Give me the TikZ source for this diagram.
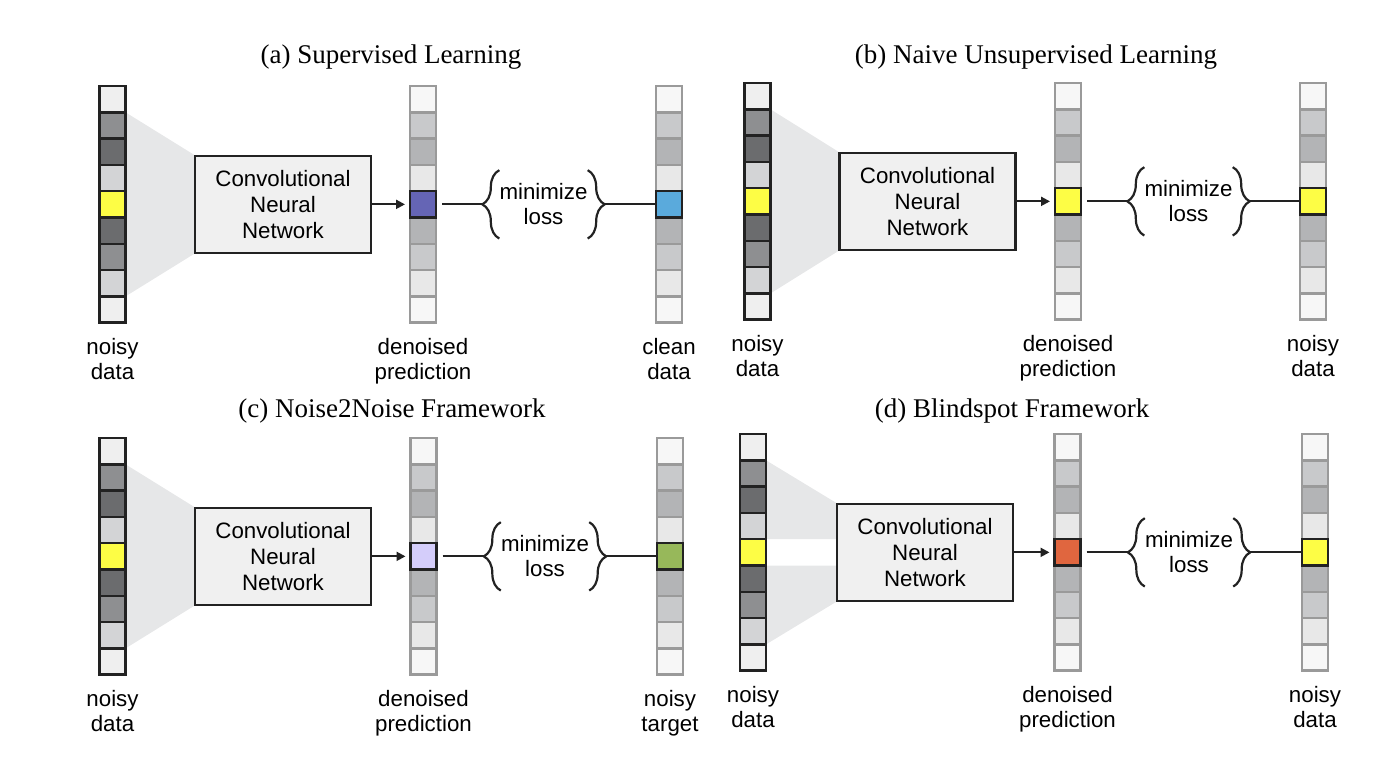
\documentclass[tikz,border=0pt]{standalone}
\usepackage{fontspec}
\setmainfont{Liberation Serif}
\setsansfont{Liberation Sans}
\usetikzlibrary{arrows.meta, backgrounds, decorations.pathreplacing, positioning}
\definecolor{ink}{HTML}{222222}
\definecolor{rim}{HTML}{9A9A9A}
\definecolor{boxfill}{HTML}{F0F0F0}
\definecolor{conefill}{HTML}{E6E7E8}
\definecolor{nA}{HTML}{EFEFEF}
\definecolor{nB}{HTML}{8E8F91}
\definecolor{nC}{HTML}{6B6C6E}
\definecolor{nD}{HTML}{D3D4D6}
\definecolor{pxYellow}{HTML}{FDFD45}
\definecolor{pA}{HTML}{F7F7F7}
\definecolor{pB}{HTML}{C8C9CB}
\definecolor{pC}{HTML}{B3B4B6}
\definecolor{pD}{HTML}{E8E8E8}
\definecolor{predPurple}{HTML}{6565B5}
\definecolor{cleanBlue}{HTML}{5AAADC}
\definecolor{predLilac}{HTML}{D4CDFA}
\definecolor{targetGreen}{HTML}{97B85A}
\definecolor{predOrange}{HTML}{E0663F}

\begin{document}
\begin{tikzpicture}[x=1pt, y=-1pt,
node distance = 15pt,
pixcell/.style = {draw=#1, line width=2.5pt, inner sep=0pt, outer sep=0pt,
                  minimum width=26pt, minimum height=26.3pt},
cnn/.style = {draw=ink, fill=boxfill, line width=2.5pt, inner sep=0pt,
              minimum width=176pt, minimum height=97pt, align=center,
              font=\sffamily\fontsize{22.3}{26}\selectfont},
lbl/.style = {align=center, inner sep=0pt,
              font=\sffamily\fontsize{22.3}{25}\selectfont},
lossbox/.style = {lbl, minimum width=87pt, minimum height=68pt},
ttl/.style = {inner sep=0pt, font=\fontsize{27}{32}\selectfont},
brc/.style = {draw=ink, line width=2.2pt, decorate,
              decoration={brace, amplitude=17pt}},
wire/.style = {draw=ink, line width=2pt},
feed/.style = {wire, -{Triangle[length=9pt, width=9pt]}, shorten >=5pt},
                    ]
\useasboundingbox (0,0) rectangle (1388,756);
%---
\node[ttl] (aTitle) at (391,57)   {(a) Supervised Learning};
\node[ttl] (bTitle) at (1036,57)  {(b) Naive Unsupervised Learning};
\node[ttl] (cTitle) at (392,411)  {(c) Noise2Noise Framework};
\node[ttl] (dTitle) at (1012,411) {(d) Blindspot Framework};
%--- noisy input columns
\foreach \n/\x/\y in {a/112.5/86, b/757.5/83, c/112.5/438, d/753/434}
  \foreach \c [count=\i] in {nA,nB,nC,nD,pxYellow,nC,nB,nD,nA}
    \node[pixcell=ink, fill=\c] (\n N\i) at (\x, {\y+13.15+26.3*(\i-1)}) {};
%--- prediction and target columns
\foreach \n/\x/\y/\hc in {aP/423/86/predPurple, aT/669/86/cleanBlue,
                          bP/1068/83/pxYellow, bT/1313/83/pxYellow,
                          cP/423.5/438/predLilac, cT/670/438/targetGreen,
                          dP/1067.5/434/predOrange, dT/1315/434/pxYellow}{
  \foreach \c [count=\i] in {pA,pB,pC,pD,\hc,pC,pB,pD,pA}
    \node[pixcell=rim, fill=\c] (\n\i) at (\x, {\y+13.15+26.3*(\i-1)}) {};
  \draw[ink, line width=2.5pt] (\n5.north west) rectangle (\n5.south east);
}
%--- network, loss and labels
\foreach \pnl/\xb/\y/\xl/\tl in {a/283/86/543.5/{clean\\data},
                                 b/927.5/83/1188.5/{noisy\\data},
                                 c/283/438/545/{noisy\\target},
                                 d/925/434/1189/{noisy\\data}}{
  \node[cnn] (\pnl Box) at (\xb, {\y+118.35}) {Convolutional\\Neural\\Network};
  \node[lossbox] (\pnl Loss) at (\xl, {\y+118.35}) {minimize\\loss};
  \coordinate (\pnl TipL) at ([xshift=-17pt]\pnl Loss.west);
  \coordinate (\pnl TipR) at ([xshift=17pt]\pnl Loss.east);
  \draw[brc] (\pnl Loss.south west) -- (\pnl Loss.north west);
  \draw[brc] (\pnl Loss.north east) -- (\pnl Loss.south east);
  \draw[feed] (\pnl Box) -- (\pnl P5);
  \draw[wire] ([xshift=6pt]\pnl P5.east) -- (\pnl TipL);
  \draw[wire] (\pnl TipR) -- (\pnl T5);
  \node[lbl, below=of \pnl N9] (\pnl NLbl) {noisy\\data};
  \node[lbl, below=of \pnl P9] (\pnl PLbl) {denoised\\prediction};
  \node[lbl, below=of \pnl T9] (\pnl TLbl) {\tl};
}
%--- receptive fields
\begin{scope}[on background layer]
\foreach \pnl in {a,b,c}
  \fill[conefill] (\pnl N2.north east) -- (\pnl Box.north west)
               -- (\pnl Box.south west) -- (\pnl N8.south east) -- cycle;
\fill[conefill] (dN2.north east) -- (dBox.north west)
             -- (dBox.west |- dN5.north) -- (dN5.north east) -- cycle;
\fill[conefill] (dN6.north east) -- (dBox.west |- dN6.north)
             -- (dBox.south west) -- (dN8.south east) -- cycle;
\end{scope}
\end{tikzpicture}
\end{document}
